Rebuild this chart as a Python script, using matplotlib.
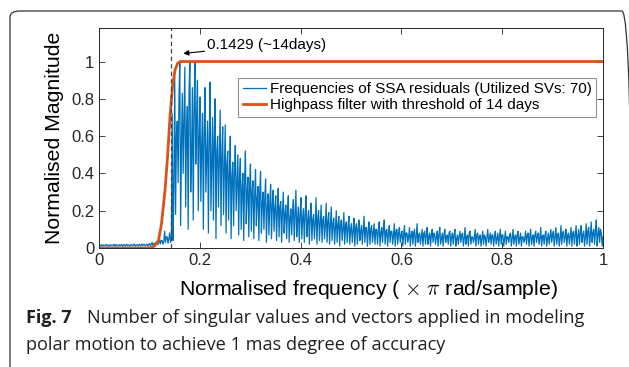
import numpy as np
import matplotlib.pyplot as plt
from matplotlib.patches import FancyBboxPatch

# spectrum of SSA residuals: for each small frequency bin
# the tallest spike, the deepest dip and a secondary spike
blue_peaks = [
    0.016, 0.018, 0.015, 0.019, 0.017, 0.016, 0.020, 0.018, 0.017, 0.019,
    0.018, 0.020, 0.017, 0.019, 0.021, 0.018, 0.020, 0.022, 0.019, 0.021,
    0.024, 0.030, 0.026, 0.035, 0.050, 0.040, 0.090, 0.060, 0.080, 0.720,
    0.92, 0.68, 1.00, 0.83, 0.97, 0.76, 1.00, 0.86, 1.00, 0.90,
    0.81, 0.72, 0.86, 0.68, 0.89, 0.70, 0.80, 0.60, 0.74, 0.65,
    0.66, 0.52, 0.60, 0.46, 0.55, 0.50, 0.48, 0.40, 0.52, 0.38,
    0.45, 0.36, 0.42, 0.33, 0.41, 0.30, 0.37, 0.29, 0.34, 0.31,
    0.28, 0.32, 0.25, 0.30, 0.23, 0.28, 0.21, 0.26, 0.31, 0.22,
    0.27, 0.21, 0.28, 0.20, 0.24, 0.18, 0.27, 0.20, 0.23, 0.17,
    0.24, 0.19, 0.22, 0.16, 0.20, 0.17, 0.15, 0.19, 0.14, 0.17,
    0.13, 0.16, 0.13, 0.15, 0.12, 0.17, 0.11, 0.14, 0.12, 0.13,
    0.10, 0.14, 0.11, 0.15, 0.10, 0.12, 0.09, 0.13, 0.10, 0.11,
    0.09, 0.12, 0.08, 0.11, 0.09, 0.10, 0.13, 0.08, 0.10, 0.09,
    0.11, 0.08, 0.10, 0.07, 0.09, 0.11, 0.08, 0.10, 0.07, 0.09,
    0.08, 0.10, 0.07, 0.09, 0.08, 0.11, 0.07, 0.09, 0.06, 0.10,
    0.08, 0.07, 0.09, 0.06, 0.10, 0.08, 0.07, 0.09, 0.08, 0.10,
    0.07, 0.09, 0.06, 0.08, 0.10, 0.07, 0.09, 0.08, 0.06, 0.09,
    0.08, 0.10, 0.07, 0.09, 0.08, 0.11, 0.07, 0.09, 0.08, 0.10,
    0.09, 0.11, 0.08, 0.12, 0.09, 0.10, 0.08, 0.11, 0.09, 0.12,
    0.10, 0.12, 0.09, 0.13, 0.11, 0.14, 0.10, 0.15, 0.11, 0.08,
]
blue_troughs = [
    0.010, 0.008, 0.011, 0.009, 0.010, 0.012, 0.009, 0.010, 0.011, 0.009,
    0.010, 0.011, 0.009, 0.012, 0.010, 0.011, 0.010, 0.012, 0.011, 0.010,
    0.012, 0.015, 0.014, 0.018, 0.022, 0.020, 0.030, 0.025, 0.030, 0.040,
    0.18, 0.35, 0.12, 0.40, 0.22, 0.10, 0.30, 0.15, 0.45, 0.20,
    0.25, 0.10, 0.30, 0.08, 0.20, 0.15, 0.05, 0.22, 0.12, 0.18,
    0.08, 0.15, 0.05, 0.12, 0.20, 0.07, 0.10, 0.04, 0.13, 0.06,
    0.09, 0.05, 0.12, 0.04, 0.08, 0.10, 0.03, 0.07, 0.05, 0.09,
    0.04, 0.06, 0.03, 0.08, 0.05, 0.03, 0.07, 0.04, 0.06, 0.03,
    0.05, 0.03, 0.06, 0.02, 0.04, 0.05, 0.02, 0.04, 0.03, 0.05,
    0.03, 0.02, 0.04, 0.02, 0.03, 0.01, 0.04, 0.02, 0.03, 0.02,
    0.03, 0.01, 0.02, 0.04, 0.02, 0.03, 0.01, 0.02, 0.03, 0.02,
    0.02, 0.01, 0.03, 0.02, 0.01, 0.03, 0.02, 0.01, 0.02, 0.03,
    0.01, 0.02, 0.03, 0.01, 0.02, 0.01, 0.03, 0.02, 0.01, 0.02,
    0.02, 0.01, 0.03, 0.02, 0.01, 0.02, 0.01, 0.03, 0.02, 0.01,
    0.02, 0.01, 0.02, 0.03, 0.01, 0.02, 0.01, 0.02, 0.03, 0.01,
    0.02, 0.01, 0.02, 0.01, 0.03, 0.02, 0.01, 0.02, 0.01, 0.02,
    0.01, 0.02, 0.03, 0.01, 0.02, 0.01, 0.02, 0.01, 0.03, 0.02,
    0.01, 0.02, 0.01, 0.03, 0.02, 0.01, 0.02, 0.01, 0.02, 0.03,
    0.01, 0.02, 0.01, 0.02, 0.03, 0.01, 0.02, 0.01, 0.02, 0.01,
    0.02, 0.03, 0.01, 0.02, 0.01, 0.03, 0.02, 0.01, 0.03, 0.01,
]
blue_mid = [
    0.014, 0.016, 0.015, 0.014, 0.016, 0.015, 0.017, 0.014, 0.016, 0.015,
    0.016, 0.015, 0.017, 0.016, 0.015, 0.017, 0.016, 0.018, 0.016, 0.017,
    0.020, 0.022, 0.030, 0.028, 0.040, 0.035, 0.060, 0.050, 0.050, 0.300,
    0.60, 0.80, 0.55, 0.70, 0.62, 0.85, 0.50, 0.75, 0.70, 0.60,
    0.55, 0.62, 0.50, 0.58, 0.45, 0.60, 0.52, 0.48, 0.50, 0.42,
    0.45, 0.40, 0.38, 0.42, 0.35, 0.38, 0.32, 0.36, 0.30, 0.33,
    0.30, 0.28, 0.26, 0.30, 0.24, 0.27, 0.22, 0.25, 0.23, 0.21,
    0.20, 0.22, 0.19, 0.18, 0.20, 0.16, 0.19, 0.17, 0.15, 0.18,
    0.16, 0.18, 0.14, 0.17, 0.15, 0.13, 0.16, 0.14, 0.15, 0.12,
    0.14, 0.12, 0.13, 0.11, 0.12, 0.13, 0.10, 0.12, 0.11, 0.10,
    0.09, 0.11, 0.10, 0.09, 0.10, 0.11, 0.09, 0.10, 0.08, 0.10,
    0.09, 0.08, 0.10, 0.09, 0.08, 0.09, 0.07, 0.09, 0.08, 0.07,
    0.07, 0.08, 0.06, 0.07, 0.08, 0.06, 0.07, 0.06, 0.08, 0.07,
    0.06, 0.07, 0.08, 0.06, 0.07, 0.05, 0.07, 0.06, 0.08, 0.06,
    0.07, 0.05, 0.06, 0.07, 0.05, 0.06, 0.08, 0.06, 0.05, 0.07,
    0.06, 0.05, 0.07, 0.06, 0.05, 0.07, 0.06, 0.05, 0.06, 0.07,
    0.05, 0.06, 0.07, 0.05, 0.06, 0.07, 0.05, 0.06, 0.05, 0.07,
    0.06, 0.05, 0.07, 0.06, 0.05, 0.06, 0.07, 0.05, 0.06, 0.07,
    0.06, 0.07, 0.05, 0.08, 0.06, 0.07, 0.06, 0.08, 0.07, 0.06,
    0.08, 0.07, 0.06, 0.09, 0.07, 0.08, 0.09, 0.07, 0.10, 0.06,
]

# highpass filter response
filt_freq = [0.0, 0.100, 0.110, 0.118, 0.124, 0.131, 0.136, 0.141, 0.146, 0.151, 0.156, 0.161, 0.170, 1.0]
filt_mag = [0.0, 0.0, 0.01, 0.04, 0.13, 0.31, 0.49, 0.71, 0.87, 0.957, 0.99, 1.0, 1.0, 1.0]

cutoff = 0.1429

plt.rcParams['font.family'] = ['Liberation Sans', 'DejaVu Sans']
plt.rcParams['mathtext.fontset'] = 'cm'

blue_mag = np.empty(3 * len(blue_peaks))
blue_mag[0::3] = blue_peaks
blue_mag[1::3] = blue_troughs
blue_mag[2::3] = blue_mid
blue_freq = np.linspace(0, 1, len(blue_mag))

fig = plt.figure(figsize=(6.29, 3.67), dpi=100)
ax = fig.add_axes([0.1574, 0.3243, 0.8013, 0.5995])

ax.plot(blue_freq, blue_mag, color='#0072BD', lw=0.9,
        label='Frequencies of SSA residuals (Utilized SVs: 70)')
ax.plot(filt_freq, filt_mag, color='#D95319', lw=2.0,
        label='Highpass filter with threshold of 14 days')
ax.axvline(cutoff, color='#444444', ls=(0, (3.5, 2.5)), lw=0.9)

ax.annotate('0.1429 (~14days)', xy=(0.167, 1.043), xytext=(0.215, 1.09),
            fontsize=11, va='center', ha='left',
            arrowprops=dict(arrowstyle='-|>', color='black', lw=0.8,
                            mutation_scale=8, shrinkA=0, shrinkB=0))

ax.set_xlim(0, 1)
ax.set_ylim(0, 1.18)
ax.set_xticks([0, 0.2, 0.4, 0.6, 0.8, 1])
ax.set_xticklabels(['0', '0.2', '0.4', '0.6', '0.8', '1'])
ax.set_yticks([0, 0.2, 0.4, 0.6, 0.8, 1])
ax.set_yticklabels(['0', '0.2', '0.4', '0.6', '0.8', '1'])
ax.tick_params(direction='in', top=True, right=True, labelsize=12,
               length=4, width=0.6, colors='#262626')
for s in ax.spines.values():
    s.set_color('#262626')
    s.set_linewidth(0.7)

ax.set_xlabel(r'Normalised frequency ( $\times$ $\pi$ rad/sample)', fontsize=15.3)
ax.xaxis.set_label_coords(0.534, -0.135)
ax.set_ylabel('Normalised Magnitude', fontsize=15.3, labelpad=5)

leg = ax.legend(loc='upper right', bbox_to_anchor=(0.986, 0.773), fontsize=11,
                frameon=True, fancybox=False, handlelength=1.5, handletextpad=0.25,
                borderpad=0.3, labelspacing=0.12, borderaxespad=0)
leg.get_frame().set_edgecolor('#777777')
leg.get_frame().set_linewidth(0.8)

# caption
fig.text(26 / 629, 1 - 318 / 367, r'Fig. 7', fontsize=13, fontweight='bold',
         family='Open Sans', color='#231f20', va='center')
fig.text(87 / 629, 1 - 318 / 367, 'Number of singular values and vectors applied in modeling',
         fontsize=13.1, family='Open Sans', color='#231f20', va='center')
fig.text(26 / 629, 1 - 345 / 367, 'polar motion to achieve 1 mas degree of accuracy',
         fontsize=13.1, family='Open Sans', color='#231f20', va='center')

# rounded frame around figure and caption
frame = FancyBboxPatch((10 / 629, -6 / 367), 622 / 629, 362 / 367,
                       boxstyle='round,pad=0,rounding_size=0.016',
                       transform=fig.transFigure, fill=False,
                       edgecolor='#333333', lw=0.9, clip_on=False)
fig.patches.append(frame)

fig.savefig('out.png', dpi=100)
